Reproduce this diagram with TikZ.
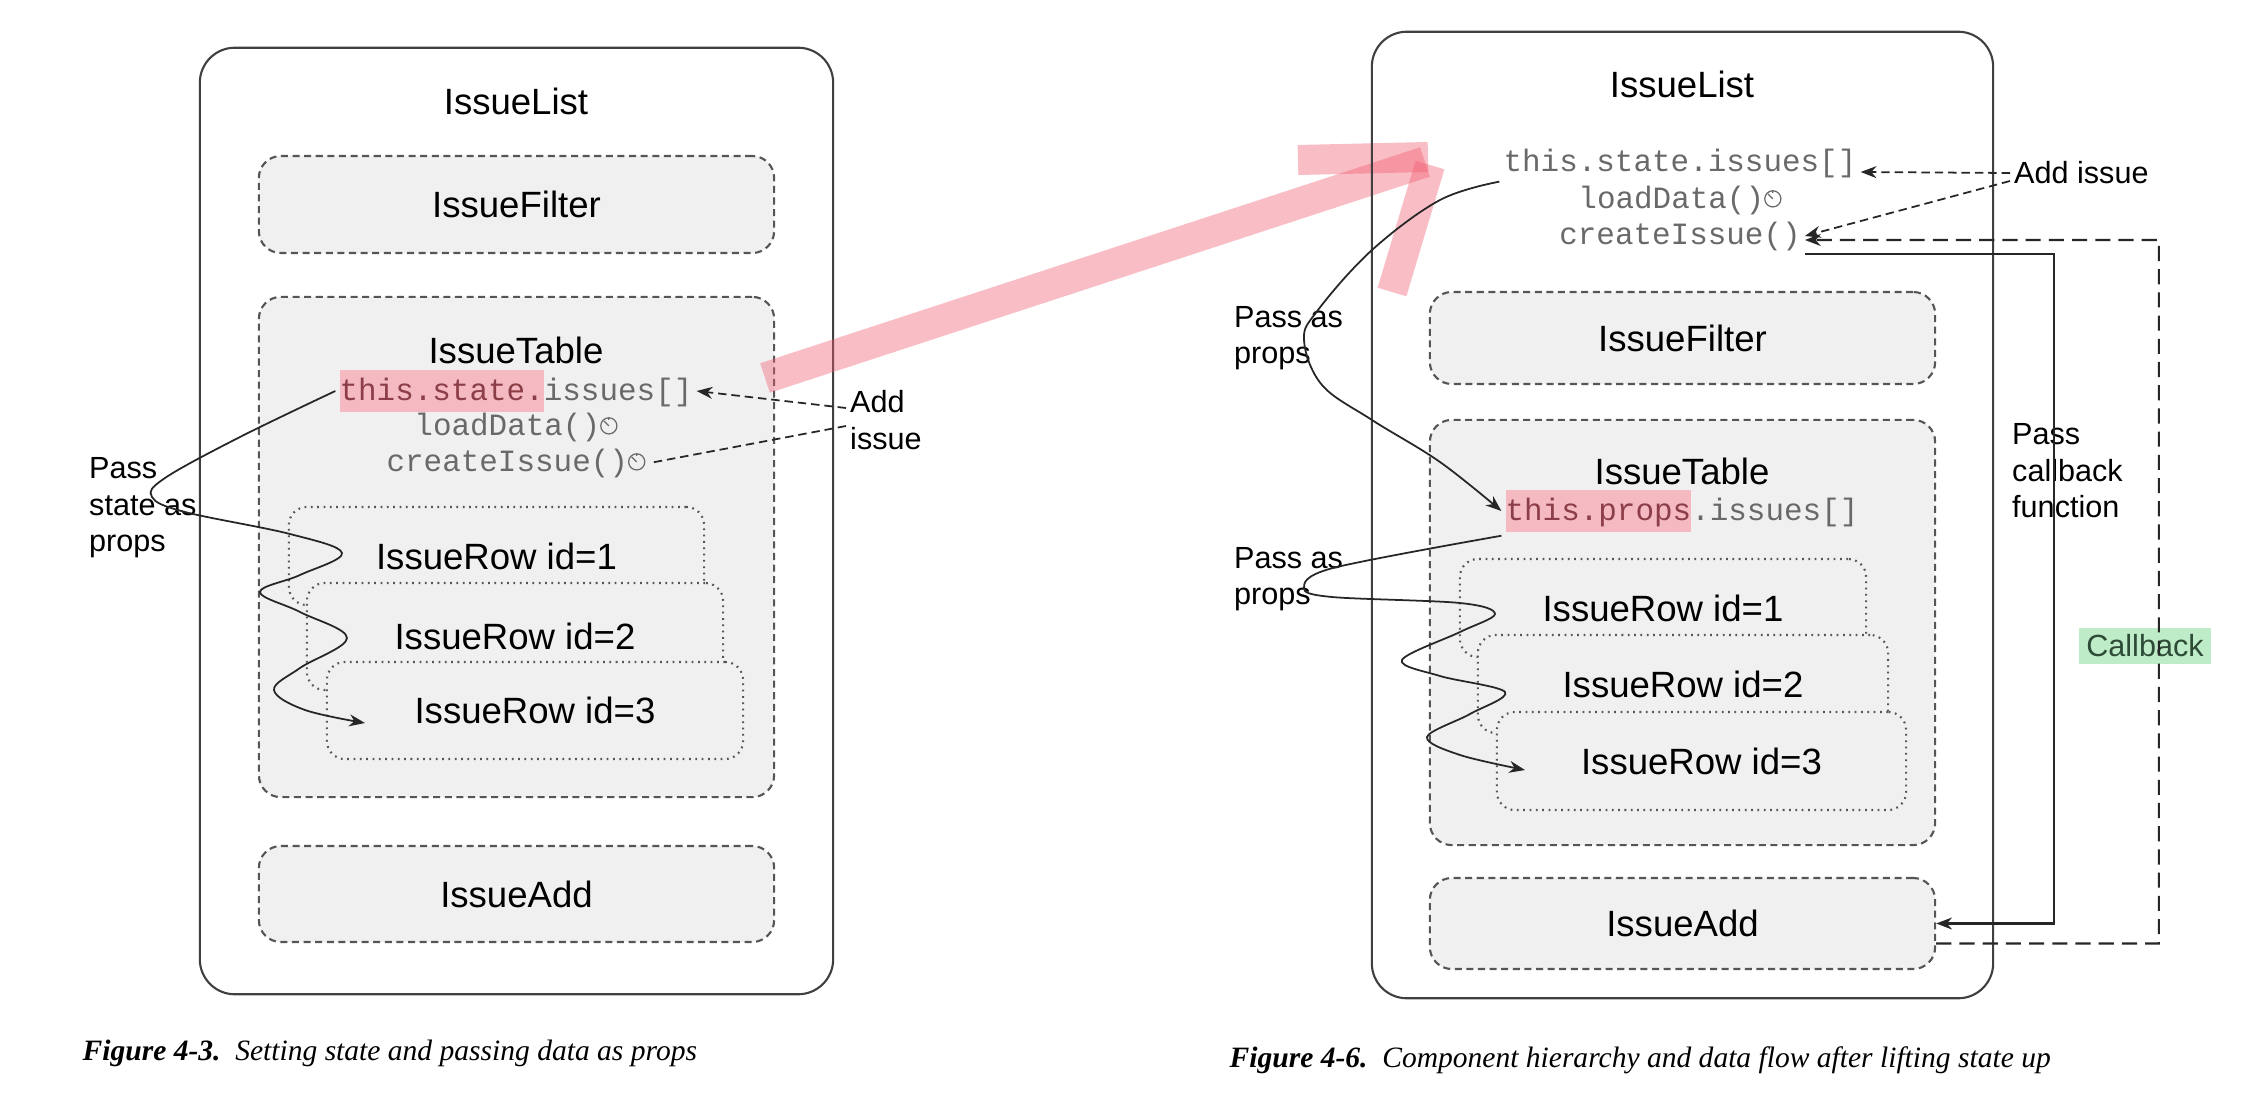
\documentclass[tikz,border=0pt]{standalone}
\usepackage{fontspec}
\setmainfont{Liberation Sans}
\setmonofont{Liberation Mono}
\newfontfamily\capfont{Liberation Serif}
\usepackage{tikz}
\usetikzlibrary{arrows,arrows.meta,calc,positioning}

\definecolor{boxfill}{RGB}{240,240,240}
\definecolor{edgegray}{RGB}{85,85,85}
\definecolor{codegray}{RGB}{105,105,105}
\definecolor{hlpink}{RGB}{245,185,193}
\definecolor{hltext}{RGB}{140,62,72}
\definecolor{markpink}{RGB}{240,90,110}
\definecolor{hlgreen}{RGB}{190,236,200}
\definecolor{cbtext}{RGB}{45,75,55}

\newcommand{\lblfont}{\fontsize{8.7}{10.4}\selectfont}
\newcommand{\compfont}{\fontsize{10.4}{12.4}\selectfont}
\newcommand{\hl}[1]{{\setlength{\fboxsep}{0pt}\colorbox{hlpink}{\rule[-1.1mm]{0pt}{4.1mm}\color{hltext}#1}}}
\newcommand{\timer}{\tikz[baseline=-2.6pt]{\draw[codegray,line width=0.35pt] (0,0) circle (2.3pt); \draw[codegray,line width=0.35pt] (0,0) -- (-1.4pt,1.4pt) (0,2.3pt) -- (0,1.7pt);}}

\begin{document}
\begin{tikzpicture}[x=0.01cm, y=-0.01cm, font=\lblfont,
	>={Stealth[length=4.5pt,width=3.4pt]},
	comp/.style={draw=black!75, line width=0.6pt, rounded corners=3.5mm},
	compname/.style={inner sep=1pt, font=\compfont},
	subcomp/.style={draw=edgegray, fill=boxfill, line width=0.6pt, dash pattern=on 2pt off 1.3pt, rounded corners=2.2mm, font=\compfont},
	rowbox/.style={draw=edgegray, fill=boxfill, line width=0.6pt, dash pattern=on 0.5pt off 1.3pt, rounded corners=1.8mm, font=\compfont},
	lbl/.style={inner sep=1pt},
	code/.style={font=\ttfamily\fontsize{8.8}{10.5}\selectfont, text=codegray, inner sep=1pt},
	flow/.style={draw=black!85, line width=0.5pt},
	addline/.style={draw=black!85, line width=0.5pt, dash pattern=on 2.4pt off 1.4pt},
	cbline/.style={draw=black!85, line width=0.6pt},
	cbdash/.style={draw=black!85, line width=0.6pt, dash pattern=on 4.3pt off 2.3pt},
	marker/.style={draw=markpink, opacity=0.4, line width=3.1mm},
	figcap/.style={font=\capfont\itshape\fontsize{8.4}{10}\selectfont, inner sep=0pt}]

	\useasboundingbox (0,0) rectangle (2268,1106);

	% Left: state in IssueTable
	\node[comp, minimum width=6.33cm, minimum height=9.46cm] (lList) at (516.5,521) {};
	\node[compname] (lListT) at (516,101) {IssueList};
	\node[subcomp, minimum width=5.15cm, minimum height=0.97cm] (lFilter) at (516.5,204.5) {IssueFilter};
	\node[subcomp, minimum width=5.15cm, minimum height=5.0cm] (lTable) at (516.5,547) {};
	\node[compname] (lTableT) at (516,350) {IssueTable};
	\node[code] (lIssues) at (516,391) {\hl{this.state.}issues[]};
	\node[code] (lLoad) at (516,427) {loadData()\timer};
	\node[code] (lCreate) at (516,463) {createIssue()\timer};
	\node[rowbox, minimum width=4.15cm, minimum height=0.98cm] (lRow1) at (496.5,556) {IssueRow id=1};
	\node[rowbox, minimum width=4.16cm, minimum height=1.07cm] (lRow2) at (515,636.5) {IssueRow id=2};
	\node[rowbox, minimum width=4.16cm, minimum height=0.97cm] (lRow3) at (535,710.5) {IssueRow id=3};
	\node[subcomp, minimum width=5.15cm, minimum height=0.96cm] (lAdd) at (516.5,894) {IssueAdd};
	\node[lbl, anchor=west, align=left] (lAddI) at (846,420) {Add\\issue};
	\node[lbl, anchor=west, align=left] (lPass) at (85,508) {Pass\\state as\\props};
	\coordinate (lRow3in) at (365,723);

	\draw[addline,->] ([yshift=1.2mm]lAddI.west) -- (lIssues.east);
	\draw[addline] ([yshift=-0.6mm]lAddI.west) -- (lCreate.east);
	\draw[flow,->] plot[smooth, tension=0.6] coordinates {(lIssues.west) (240,437) (165,478) (152,497) (185,512) (290,534) (342,553) (300,575) (260,592) (300,612) (347,638) (300,668) (274,690) (305,710) (lRow3in)};

	% Highlight arrow
	\draw[marker] (765,378) -- (1425,162);
	\draw[marker, line width=3mm] (1298,160) -- (1428,157);
	\draw[marker, line width=3mm] (1430,165) -- (1392,292);

	% Right: state lifted to IssueList
	\node[comp, minimum width=6.21cm, minimum height=9.66cm] (rList) at (1682.5,515) {};
	\node[compname] (rListT) at (1682,84) {IssueList};
	\node[code] (rIssues) at (1680,163) {this.state.issues[]};
	\node[code] (rLoad) at (1680,200) {loadData()\timer};
	\node[code] (rCreate) at (1680,236) {createIssue()};
	\node[lbl, anchor=west] (rAddI) at (2010,173) {Add issue};
	\node[subcomp, minimum width=5.05cm, minimum height=0.92cm] (rFilter) at (1682.5,338) {IssueFilter};
	\node[subcomp, minimum width=5.05cm, minimum height=4.25cm] (rTable) at (1682.5,632.5) {};
	\node[compname] (rTableT) at (1682,471) {IssueTable};
	\node[code] (rProps) at (1682,511) {\hl{this.props}.issues[]};
	\node[rowbox, minimum width=4.06cm, minimum height=0.98cm] (rRow1) at (1663,608) {IssueRow id=1};
	\node[rowbox, minimum width=4.10cm, minimum height=0.98cm] (rRow2) at (1683,684) {IssueRow id=2};
	\node[rowbox, minimum width=4.09cm, minimum height=0.98cm] (rRow3) at (1701.5,761) {IssueRow id=3};
	\node[subcomp, minimum width=5.05cm, minimum height=0.91cm] (rAdd) at (1682.5,923.5) {IssueAdd};
	\node[lbl, anchor=west, align=left] (rPass1) at (1230,338) {Pass as\\props};
	\node[lbl, anchor=west, align=left] (rPass2) at (1230,579) {Pass as\\props};
	\node[lbl, anchor=west, align=left] (rPassCb) at (2008,471) {Pass\\callback\\function};
	\node[lbl, fill=hlgreen, text=cbtext, inner sep=2pt] (rCb) at (2145,646) {Callback};
	\coordinate (rRow3in) at (1525,770);

	\draw[addline,->] (rAddI.west) -- ([yshift=-0.9mm]rIssues.east);
	\draw[addline,->] ([yshift=-0.8mm]rAddI.west) -- (rCreate.east);
	\draw[cbline,->] ([yshift=-1.8mm]rCreate.east) -| ($(rAdd.east)+(118,0)$) -- (rAdd.east);
	\draw[cbdash,->] ([yshift=-2mm]rAdd.east) -| ($(rCreate.east)+(354,4)$) -- ([yshift=-0.4mm]rCreate.east);
	\draw[flow,->] plot[smooth, tension=0.6] coordinates {(rIssues.south west) (1440,200) (1372,250) (1318,310) (1304,340) (1322,385) (1372,420) (1440,462) (rProps.west)};
	\draw[flow,->] plot[smooth, tension=0.55] coordinates {(rProps.south west) (1333,568) (1304,588) (1332,597) (1460,603) (1495,614) (1460,632) (1402,660) (1440,676) (1505,692) (1470,714) (1427,737) (1460,755) (rRow3in)};

	% Captions
	\node[figcap, anchor=west] (lCap) at (82,1053) {\textbf{Figure 4-3.}\enspace Setting state and passing data as props};
	\node[figcap, anchor=west] (rCap) at (1229,1060) {\textbf{Figure 4-6.}\enspace Component hierarchy and data flow after lifting state up};
\end{tikzpicture}
\end{document}
